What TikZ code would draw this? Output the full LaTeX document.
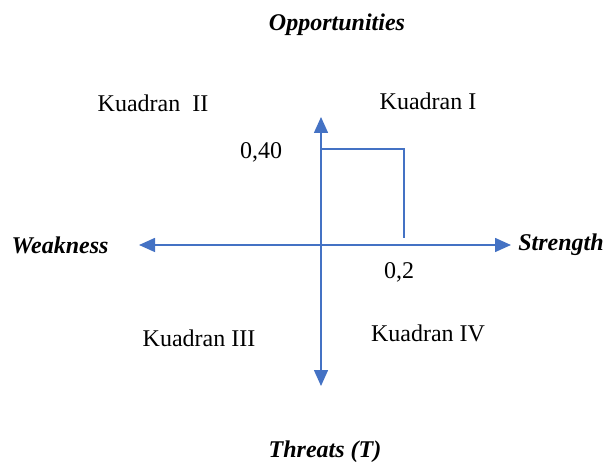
\documentclass[tikz,border=0pt]{standalone}
\usepackage{fontspec}
\setmainfont{Liberation Serif}
\usetikzlibrary{arrows.meta}

\definecolor{axisblue}{HTML}{4472C4}

\begin{document}
\begin{tikzpicture}[x=0.5pt,y=-0.5pt,
	axis/.style={draw=axisblue,line width=0.75pt,-{Triangle[length=8pt,width=7pt]}},
	frame/.style={draw=axisblue,line width=0.75pt},
	label/.style={font=\fontsize{12}{14}\selectfont},
	title/.style={font=\fontsize{12}{14}\selectfont\bfseries\itshape}]
	
	\useasboundingbox (0,0) rectangle (604,464);
	
	% Draw axis ends
	\coordinate (O) at (321,245);
	\coordinate (N) at (321,117);
	\coordinate (S) at (321,386);
	\coordinate (W) at (139,245);
	\coordinate (E) at (511,245);
	\coordinate (P) at (321,149);
	\coordinate (Q) at (404,149);
	\coordinate (R) at (404,238);
	
	% Draw nodes
	\node[title] (Opp) at (337,25) {Opportunities};
	\node[title] (Thr) at (325,452) {Threats (T)};
	\node[title] (Wea) at (60,245) {Weakness};
	\node[title] (Str) at (561,245) {Strength};
	\node[label] (K1) at (428,101) {Kuadran I};
	\node[label] (K2) at (153,103) {Kuadran\ \ II};
	\node[label] (K3) at (199,338) {Kuadran III};
	\node[label] (K4) at (428,333) {Kuadran IV};
	\node[label] (Y) at (261,152) {0,40};
	\node[label] (X) at (399,272) {0,2};
	
	% Draw axes
	\draw[axis] (O) to (N);
	\draw[axis] (O) to (S);
	\draw[axis] (O) to (W);
	\draw[axis] (O) to (E);
	
	% Draw the position box
	\draw[frame] (P) -- (Q) -- (R);
	
\end{tikzpicture}
\end{document}
